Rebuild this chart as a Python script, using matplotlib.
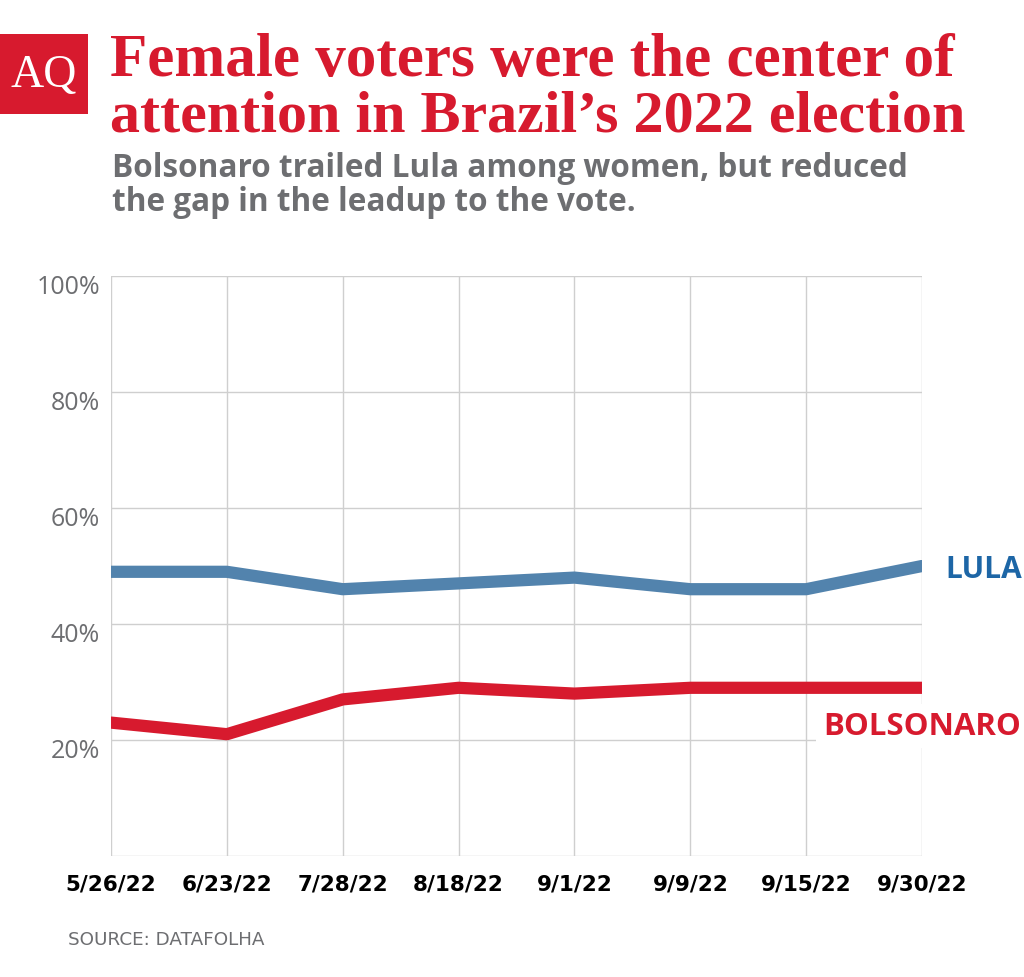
import numpy as np
import matplotlib.pyplot as plt
from matplotlib.patches import Rectangle

# data
dates = ['5/26/22', '6/23/22', '7/28/22', '8/18/22', '9/1/22', '9/9/22', '9/15/22', '9/30/22']
lula = [49, 49, 46, 47, 48, 46, 46, 50]
bolsonaro = [23, 21, 27, 29, 28, 29, 29, 29]
yticks = [20, 40, 60, 80, 100]

red = '#d71a2e'
blue_line = '#5283ad'
blue_txt = '#1d66a6'
gray = '#6d6e71'
grid = '#cfcfcf'

W, H = 1024, 978
fig = plt.figure(figsize=(W / 100, H / 100), dpi=100)

def fx(px):
    return px / W

def fy(py):
    return 1 - py / H

ax = fig.add_axes([fx(111), fy(857), fx(922) - fx(111), fy(277) - fy(857)])
x = np.arange(len(dates))
ax.set_xlim(0, len(dates) - 1)
ax.set_ylim(0, 100)

# grid
for v in yticks:
    ax.plot([0, len(dates) - 1], [v, v], color=grid, lw=1, zorder=1)
for xi in x:
    ax.plot([xi, xi], [0, 100], color=grid, lw=1, zorder=1)
ax.plot([0, len(dates) - 1], [0, 0], color=grid, lw=1, zorder=1)

ax.plot(x, lula, color=blue_line, lw=8.8, solid_capstyle='round', solid_joinstyle='round', zorder=3)
ax.plot(x, bolsonaro, color=red, lw=8.8, solid_capstyle='round', solid_joinstyle='round', zorder=3)

for s in ax.spines.values():
    s.set_visible(False)
ax.set_xticks([])
ax.set_yticks([])

sans = ['Open Sans', 'DejaVu Sans']
narrow = ['Liberation Sans Narrow', 'DejaVu Sans']

for v in yticks:
    ax.text(-0.095, v + 0.3, f'{v}%', ha='right', va='top', fontsize=18, color=gray,
            family=sans, transform=ax.transData)

for xi, d in zip(x, dates):
    ax.text(xi, -3.0, d, ha='center', va='top', fontsize=15.5, fontweight='bold',
            color='black', family=narrow, clip_on=False)

# series labels
fig.text(fx(945), fy(570), 'LULA', ha='left', va='center', fontsize=21.5,
         fontweight='bold', color=blue_txt, family=sans)
fig.text(fx(1021), fy(727), 'BOLSONARO', ha='right', va='center', fontsize=22.5,
         fontweight='bold', color=red, family=sans,
         bbox=dict(facecolor='white', edgecolor='none', pad=5))

# title block
serif = ['Liberation Serif', 'DejaVu Serif']
fig.text(fx(110), fy(76), 'Female voters were the center of', ha='left', va='baseline',
         fontsize=44, fontweight='bold', color=red, family=serif)
fig.text(fx(110), fy(131), 'attention in Brazil\u2019s 2022 election', ha='left', va='baseline',
         fontsize=43.3, fontweight='bold', color=red, family=serif)
fig.text(fx(112), fy(177), 'Bolsonaro trailed Lula among women, but reduced', ha='left',
         va='baseline', fontsize=22.7, fontweight='bold', color=gray, family=sans)
fig.text(fx(112), fy(211), 'the gap in the leadup to the vote.', ha='left',
         va='baseline', fontsize=22.7, fontweight='bold', color=gray, family=sans)

# logo
fig.patches.append(Rectangle((fx(0), fy(115)), fx(88), fy(35) - fy(115),
                             transform=fig.transFigure, facecolor=red, edgecolor='none'))
fig.text(fx(44), fy(76), 'AQ', ha='center', va='center', fontsize=33, color='white',
         family=serif)

fig.text(fx(68), fy(940), 'SOURCE: DATAFOLHA', ha='left', va='center', fontsize=13.2,
         color=gray, family=narrow)

fig.savefig('out.png', dpi=100, facecolor='white')
